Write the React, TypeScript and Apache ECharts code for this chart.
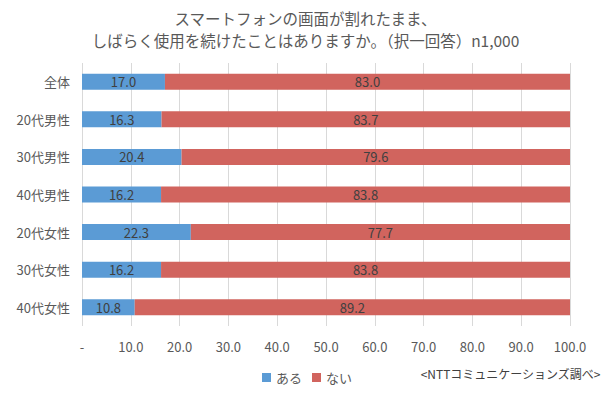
import React, { useEffect, useRef } from "react";
import * as echarts from "echarts";

const categories = ["全体", "20代男性", "30代男性", "40代男性", "20代女性", "30代女性", "40代女性"];
const aruValues = [17.0, 16.3, 20.4, 16.2, 22.3, 16.2, 10.8];
const naiValues = [83.0, 83.7, 79.6, 83.8, 77.7, 83.8, 89.2];
const seriesNames = ["ある", "ない"];
const titleLines = ["スマートフォンの画面が割れたまま、", "しばらく使用を続けたことはありますか。（択一回答）n1,000"];
const sourceText = "<NTTコミュニケーションズ調べ>";

const FONT = "'Noto Sans CJK JP', 'Noto Sans', sans-serif";

export default function App() {
  const ref = useRef<HTMLDivElement>(null);
  useEffect(() => {
    if (!ref.current) return;
    const chart = echarts.init(ref.current, null, { renderer: "svg" });
    const labelCfg = {
      show: true,
      position: "inside" as const,
      color: "#404040",
      fontSize: 13,
      fontFamily: FONT,
      formatter: (p: any) => Number(p.value).toFixed(1),
    };
    const titleStyle = { fontSize: 15.5, fontWeight: "normal", color: "#595959", fontFamily: FONT };
    chart.setOption({
      animation: false,
      backgroundColor: "#ffffff",
      textStyle: { fontFamily: FONT },
      title: [
        { text: titleLines[0], left: "center", top: 10, padding: 0, textStyle: titleStyle },
        { text: titleLines[1], left: "center", top: 32, padding: 0, textStyle: titleStyle },
      ],
      legend: {
        data: seriesNames,
        left: 257,
        top: 366,
        icon: "rect",
        itemWidth: 9,
        itemHeight: 9,
        itemGap: 10,
        textStyle: { fontSize: 13, color: "#595959", fontFamily: FONT },
      },
      graphic: [
        {
          type: "text",
          right: 10,
          top: 367,
          style: { text: sourceText, fontSize: 12, fill: "#404040", fontFamily: FONT },
        },
      ],
      grid: { left: 82, right: 41, top: 63, bottom: 71, containLabel: false },
      xAxis: {
        type: "value",
        min: 0,
        max: 100,
        interval: 10,
        axisLine: { show: false },
        axisTick: { show: false },
        splitLine: { show: true, lineStyle: { color: "#D9D9D9", width: 1 } },
        axisLabel: {
          color: "#595959",
          fontSize: 13,
          fontFamily: FONT,
          margin: 14,
          formatter: (v: number) => (v === 0 ? "-" : v.toFixed(1)),
        },
      },
      yAxis: {
        type: "category",
        data: categories,
        inverse: true,
        axisLine: { show: false },
        axisTick: { show: false },
        axisLabel: { color: "#595959", fontSize: 13, fontFamily: FONT, margin: 12 },
      },
      series: [
        {
          name: seriesNames[0],
          type: "bar",
          stack: "total",
          data: aruValues,
          barWidth: 16,
          itemStyle: { color: "#5B9BD5" },
          label: labelCfg,
        },
        {
          name: seriesNames[1],
          type: "bar",
          stack: "total",
          data: naiValues,
          barWidth: 16,
          itemStyle: { color: "#D1645E" },
          label: labelCfg,
        },
      ],
    });
    return () => chart.dispose();
  }, []);
  return <div ref={ref} style={{ width: 611, height: 397, position: "absolute", left: 0, top: 0 }} />;
}
